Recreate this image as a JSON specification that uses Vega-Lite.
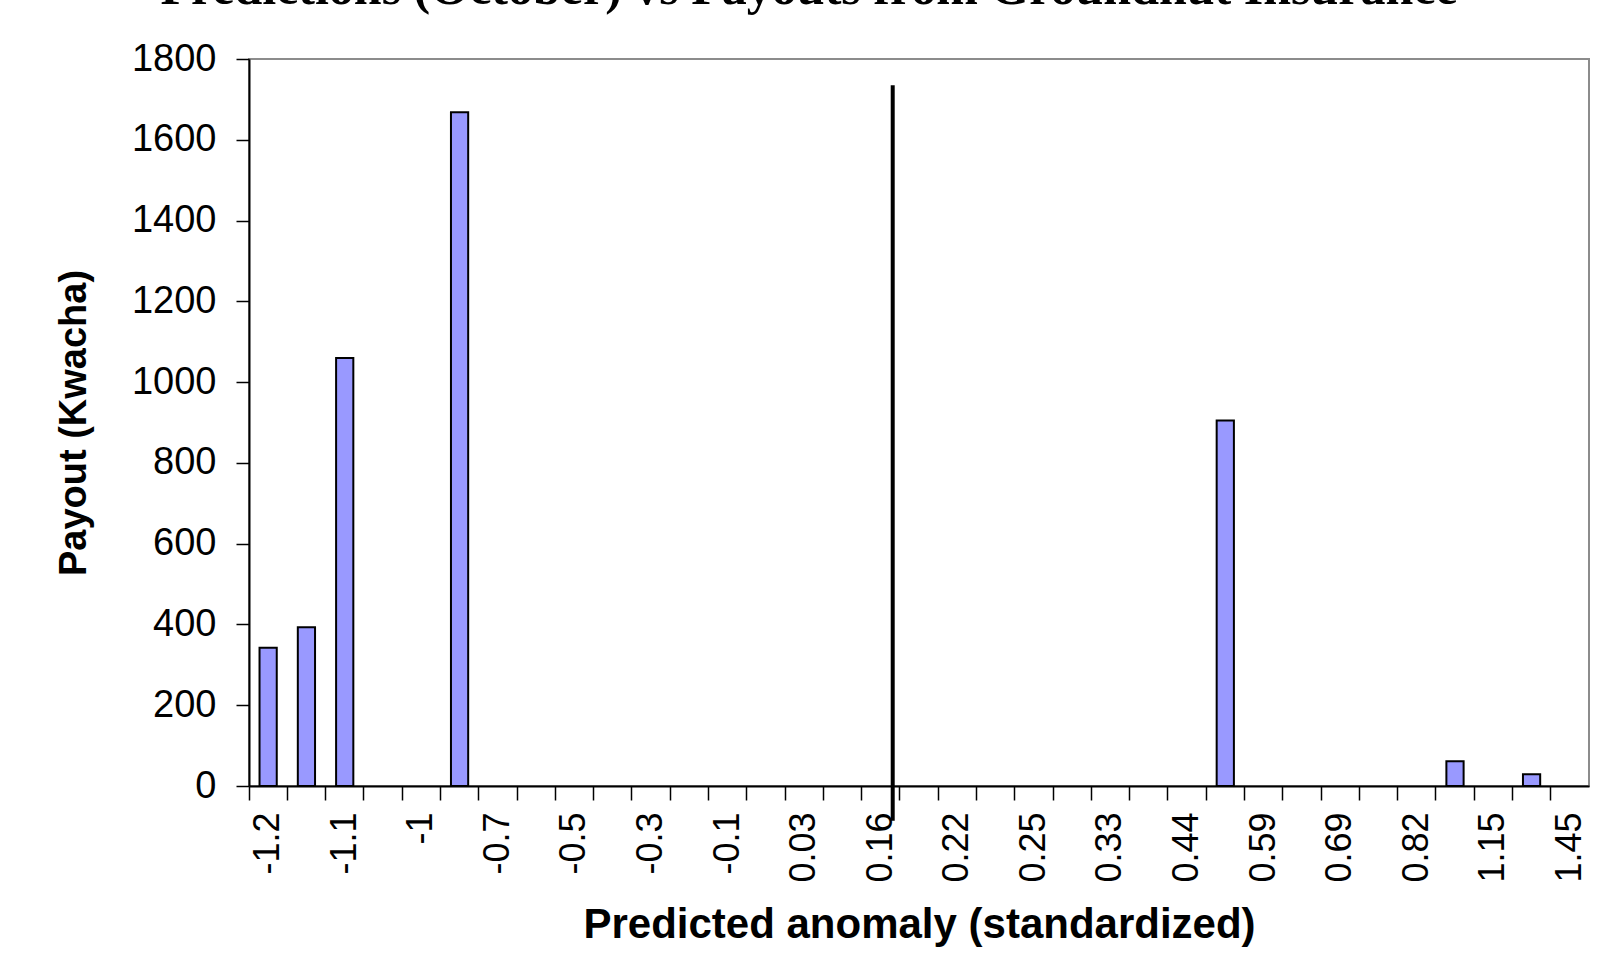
{
  "$schema": "https://vega.github.io/schema/vega-lite/v6.json",
  "width": 1340,
  "height": 727,
  "autosize": {"type": "none"},
  "padding": {"left": 249, "top": 59, "right": 15, "bottom": 194},
  "background": "white",
  "title": {
    "text": "Predictions (October) vs Payouts from Groundnut Insurance",
    "font": "Liberation Serif",
    "fontSize": 50,
    "fontWeight": "bold",
    "color": "black",
    "anchor": "middle",
    "frame": "group",
    "offset": 26,
    "dx": -110
  },
  "config": {
    "view": {"stroke": "#8c8c8c", "strokeWidth": 2},
    "axis": {
      "labelFont": "Liberation Sans",
      "titleFont": "Liberation Sans",
      "labelColor": "black",
      "titleColor": "black",
      "domainColor": "black",
      "domainWidth": 2,
      "tickColor": "black",
      "tickWidth": 1.5,
      "grid": false
    }
  },
  "layer": [
    {
      "data": {
        "values": [
          {"anomaly": "-1.2", "payout": 342},
          {"anomaly": "-1.15", "payout": 393},
          {"anomaly": "-1.1", "payout": 1060},
          {"anomaly": "-1.05", "payout": 0},
          {"anomaly": "-1", "payout": 0},
          {"anomaly": "-0.8", "payout": 1668},
          {"anomaly": "-0.7", "payout": 0},
          {"anomaly": "-0.6", "payout": 0},
          {"anomaly": "-0.5", "payout": 0},
          {"anomaly": "-0.4", "payout": 0},
          {"anomaly": "-0.3", "payout": 0},
          {"anomaly": "-0.2", "payout": 0},
          {"anomaly": "-0.1", "payout": 0},
          {"anomaly": "-0.05", "payout": 0},
          {"anomaly": "0.03", "payout": 0},
          {"anomaly": "0.1", "payout": 0},
          {"anomaly": "0.16", "payout": 0},
          {"anomaly": "0.2", "payout": 0},
          {"anomaly": "0.22", "payout": 0},
          {"anomaly": "0.24", "payout": 0},
          {"anomaly": "0.25", "payout": 0},
          {"anomaly": "0.3", "payout": 0},
          {"anomaly": "0.33", "payout": 0},
          {"anomaly": "0.4", "payout": 0},
          {"anomaly": "0.44", "payout": 0},
          {"anomaly": "0.5", "payout": 905},
          {"anomaly": "0.59", "payout": 0},
          {"anomaly": "0.65", "payout": 0},
          {"anomaly": "0.69", "payout": 0},
          {"anomaly": "0.75", "payout": 0},
          {"anomaly": "0.82", "payout": 0},
          {"anomaly": "1", "payout": 61},
          {"anomaly": "1.15", "payout": 0},
          {"anomaly": "1.35", "payout": 29},
          {"anomaly": "1.45", "payout": 0}
        ]
      },
      "mark": {
        "type": "bar",
        "width": {"band": 0.45},
        "fill": "#9999FF",
        "stroke": "black",
        "strokeWidth": 2,
        "clip": false
      },
      "encoding": {
        "x": {
          "field": "anomaly",
          "type": "ordinal",
          "sort": null,
          "scale": {"paddingInner": 0, "paddingOuter": 0},
          "axis": {
            "title": "Predicted anomaly (standardized)",
            "titleFontSize": 42,
            "titleFontWeight": "bold",
            "titlePadding": 22,
            "labelAngle": -90,
            "labelAlign": "right",
            "labelBaseline": "middle",
            "labelFontSize": 36,
            "labelPadding": 12,
            "labelOverlap": false,
            "labelExpr": "indexof(['-1.2','-1.1','-1','-0.7','-0.5','-0.3','-0.1','0.03','0.16','0.22','0.25','0.33','0.44','0.59','0.69','0.82','1.15','1.45'], datum.value) >= 0 ? datum.value : ''",
            "bandPosition": 0,
            "tickSize": 14
          }
        },
        "y": {
          "field": "payout",
          "type": "quantitative",
          "scale": {"domain": [0, 1800], "nice": false},
          "axis": {
            "title": "Payout (Kwacha)",
            "titleFontSize": 38,
            "titleFontWeight": "bold",
            "titlePadding": 38,
            "values": [0, 200, 400, 600, 800, 1000, 1200, 1400, 1600, 1800],
            "labelFontSize": 38,
            "labelPadding": 20,
            "tickSize": 13,
            "format": "d"
          }
        },
        "strokeOpacity": {
          "condition": {"test": "datum.payout > 0", "value": 1},
          "value": 0
        }
      }
    },
    {
      "data": {"values": [{"anomaly": "0.16", "top": 1735, "bottom": -86}]},
      "mark": {"type": "rule", "color": "black", "strokeWidth": 4, "xOffset": 12, "clip": false},
      "encoding": {
        "x": {"field": "anomaly", "type": "ordinal", "sort": null},
        "y": {"field": "top", "type": "quantitative"},
        "y2": {"field": "bottom"}
      }
    }
  ]
}
